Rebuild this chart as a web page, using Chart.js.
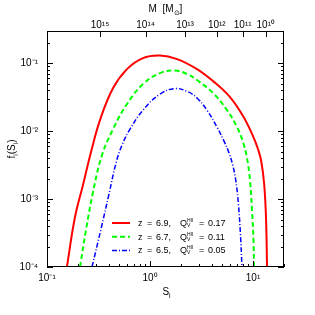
<!DOCTYPE html>
<html><head><meta charset="utf-8">
<script src="https://cdn.jsdelivr.net/npm/chart.js@4/dist/chart.umd.min.js"></script>
<style>html,body{margin:0;padding:0;background:#fff;}#c{display:block;}</style>
</head><body>
<canvas id="c" width="315" height="315"></canvas>
<script>
// ---- data ----
const zValues = ['6.9', '6.7', '6.5'];
const qValues = ['0.17', '0.11', '0.05'];

const sRed = [0.156, 0.187, 0.2236, 0.2675, 0.327, 0.438, 0.598, 0.855, 1.25, 1.83, 2.86, 4.09, 5.98, 8.00, 10.0, 11.18, 11.97, 12.81, 13.37, 13.69];
const fRed = [1e-4, 5.45e-4, 1.613e-3, 4.94e-3, 0.01462, 0.04325, 0.0824, 0.1197, 0.1303, 0.1157, 0.0824, 0.0548, 0.0319, 0.01675, 8.49e-3, 5.47e-3, 3.77e-3, 1.73e-3, 5.45e-4, 1e-4];

const sGreen = [0.2091, 0.2391, 0.2797, 0.342, 0.438, 0.598, 0.855, 1.25, 1.748, 2.287, 2.86, 4.09, 5.60, 7.00, 8.00, 8.74, 9.35, 9.78, 10.11, 10.23];
const fGreen = [1e-4, 3.51e-4, 1.272e-3, 4.46e-3, 0.01077, 0.02515, 0.04956, 0.0720, 0.0783, 0.0696, 0.0568, 0.0365, 0.0205, 0.0115, 6.93e-3, 4.03e-3, 1.911e-3, 6.91e-4, 2.50e-4, 1e-4];

const sBlue = [0.2735, 0.3344, 0.3999, 0.4677, 0.5350, 0.640, 0.855, 1.25, 1.748, 2.339, 2.86, 3.57, 4.47, 5.23, 5.85, 6.39, 6.84, 7.23, 7.56, 7.82];
const fBlue = [1e-4, 3.63e-4, 1.189e-3, 3.40e-3, 6.26e-3, 0.01077, 0.0205, 0.0353, 0.0426, 0.0382, 0.0309, 0.0205, 0.0115, 7.17e-3, 4.78e-3, 3.07e-3, 1.786e-3, 8.19e-4, 2.96e-4, 1e-4];

const xMajorTicks = [0.1, 1, 10];
const xMajorLabels = ['10⁻¹', '10⁰', '10¹'];
const yMajorTicks = [1e-4, 1e-3, 1e-2, 1e-1];
const yMajorLabels = ['10⁻⁴', '10⁻³', '10⁻²', '10⁻¹'];
const massTickS = [0.327, 0.908, 2.19, 4.45, 7.94, 13.3];
const massTickLabels = ['10¹⁵', '10¹⁴', '10¹³', '10¹²', '10¹¹', '10¹⁰'];

// ---- chart ----
const FONT = '"Liberation Sans", Arial, Helvetica, sans-serif';
Chart.defaults.font.family = FONT;
Chart.defaults.color = '#000';

const toPts = (xs, ys) => xs.map((x, i) => ({x: x, y: ys[i]}));

function richText(ctx, parts, x, y, align) {
  let w = 0;
  parts.forEach(p => { ctx.font = p.size + 'px ' + FONT; p.w = ctx.measureText(p.t).width; w += p.w; });
  let cx = align === 'center' ? x - w / 2 : x;
  parts.forEach(p => {
    ctx.font = p.size + 'px ' + FONT;
    ctx.fillText(p.t, cx, y + (p.dy || 0));
    cx += p.w;
  });
}

const framePlugin = {
  id: 'frame',
  afterDatasetsDraw(chart) {
    const {ctx, chartArea: a, scales} = chart;
    const xs = scales.x, ys = scales.y;
    ctx.save();
    ctx.strokeStyle = '#000';
    ctx.lineWidth = 1;
    ctx.setLineDash([]);
    ctx.strokeRect(a.left + 0.5, a.top + 0.5, a.right - a.left - 1, a.bottom - a.top - 1);
    ctx.beginPath();
    for (let e = -2; e <= 2; e++) {
      for (let m = 1; m <= 9; m++) {
        const v = m * Math.pow(10, e);
        if (v < xs.min * 0.999 || v > xs.max * 1.001) continue;
        const px = Math.round(xs.getPixelForValue(v)) + 0.5;
        const len = m === 1 ? 6 : 3;
        ctx.moveTo(px, a.bottom); ctx.lineTo(px, a.bottom - len);
      }
    }
    for (let e = -5; e <= 0; e++) {
      for (let m = 1; m <= 9; m++) {
        const v = m * Math.pow(10, e);
        if (v < ys.min * 0.999 || v > ys.max * 1.001) continue;
        const py = Math.round(ys.getPixelForValue(v)) + 0.5;
        const len = m === 1 ? 6 : 3;
        ctx.moveTo(a.left, py); ctx.lineTo(a.left + len, py);
        ctx.moveTo(a.right, py); ctx.lineTo(a.right - len, py);
      }
    }
    massTickS.forEach(v => {
      const px = Math.round(scales.x2.getPixelForValue(v)) + 0.5;
      ctx.moveTo(px, a.top); ctx.lineTo(px, a.top + 6);
    });
    ctx.stroke();

    ctx.fillStyle = '#000';
    ctx.textBaseline = 'alphabetic';
    richText(ctx, [{t: 'S', size: 10}, {t: 'i', size: 7, dy: 3}], (a.left + a.right) / 2 + 1, 295, 'center');
    richText(ctx, [{t: 'M  [M', size: 10}, {t: '⊙', size: 7, dy: 3}, {t: ']', size: 10}], (a.left + a.right) / 2, 12, 'center');
    ctx.save();
    ctx.translate(15, (a.top + a.bottom) / 2);
    ctx.rotate(-Math.PI / 2);
    richText(ctx, [{t: 'f', size: 10}, {t: 'i', size: 7, dy: 3}, {t: '(S', size: 10}, {t: 'i', size: 7, dy: 3}, {t: ')', size: 10}], 0, 0, 'center');
    ctx.restore();

    const rowY0 = 223, rowDY = 13.7;
    chart.data.datasets.forEach((ds, i) => {
      const y = rowY0 + i * rowDY;
      ctx.save();
      ctx.strokeStyle = ds.borderColor;
      ctx.lineWidth = ds.borderWidth;
      ctx.setLineDash(ds.borderDash || []);
      ctx.beginPath();
      ctx.moveTo(112, y); ctx.lineTo(130, y);
      ctx.stroke();
      ctx.restore();
      ctx.fillStyle = '#000';
      ctx.font = '9px ' + FONT;
      const by = y + 3;
      ctx.fillText('z', 138, by);
      ctx.fillText('=', 147, by);
      ctx.fillText(zValues[i] + ',', 156, by);
      ctx.fillText('Q', 180, by);
      ctx.font = '5px ' + FONT;
      ctx.fillText('HII', 187, by - 4);
      ctx.fillText('V', 187, by + 1);
      ctx.font = '9px ' + FONT;
      ctx.fillText('=', 199, by);
      ctx.fillText(qValues[i], 208, by);
    });
    ctx.restore();
  }
};

new Chart(document.getElementById('c'), {
  type: 'line',
  data: {
    datasets: [
      {label: 'z = ' + zValues[0], data: toPts(sRed, fRed), borderColor: '#ff0000', borderWidth: 2, pointRadius: 0, fill: false, tension: 0.4},
      {label: 'z = ' + zValues[1], data: toPts(sGreen, fGreen), borderColor: '#00ff00', borderWidth: 2, borderDash: [5, 3], pointRadius: 0, fill: false, tension: 0.4},
      {label: 'z = ' + zValues[2], data: toPts(sBlue, fBlue), borderColor: '#0000ff', borderWidth: 1.5, borderDash: [5, 2, 1, 2], pointRadius: 0, fill: false, tension: 0.4}
    ]
  },
  options: {
    responsive: false,
    animation: false,
    devicePixelRatio: 1,
    layout: {padding: {left: 0, right: 31, top: 0, bottom: 0}},
    plugins: {legend: {display: false}, tooltip: {enabled: false}},
    scales: {
      x: {
        type: 'logarithmic', position: 'bottom', min: 0.1, max: 20,
        afterBuildTicks: s => { s.ticks = xMajorTicks.map(v => ({value: v})); },
        afterFit: s => { s.height = 48; },
        grid: {display: false, drawTicks: false}, border: {display: false},
        ticks: {autoSkip: false, maxRotation: 0, padding: 5, font: {size: 10}, callback: (v, i) => xMajorLabels[i]}
      },
      x2: {
        type: 'logarithmic', position: 'top', axis: 'x', min: 0.1, max: 20,
        afterBuildTicks: s => { s.ticks = massTickS.map(v => ({value: v})); },
        afterFit: s => { s.height = 31; },
        grid: {display: false, drawTicks: false}, border: {display: false},
        ticks: {autoSkip: false, maxRotation: 0, padding: 0, font: {size: 10}, callback: (v, i) => massTickLabels[i]}
      },
      y: {
        type: 'logarithmic', position: 'left', min: 1e-4, max: 0.3,
        afterBuildTicks: s => { s.ticks = yMajorTicks.map(v => ({value: v})); },
        afterFit: s => { s.width = 47; },
        grid: {display: false, drawTicks: false}, border: {display: false},
        ticks: {autoSkip: false, padding: 9, font: {size: 10}, callback: (v, i) => yMajorLabels[i]}
      }
    }
  },
  plugins: [framePlugin]
});
</script>
</body></html>
